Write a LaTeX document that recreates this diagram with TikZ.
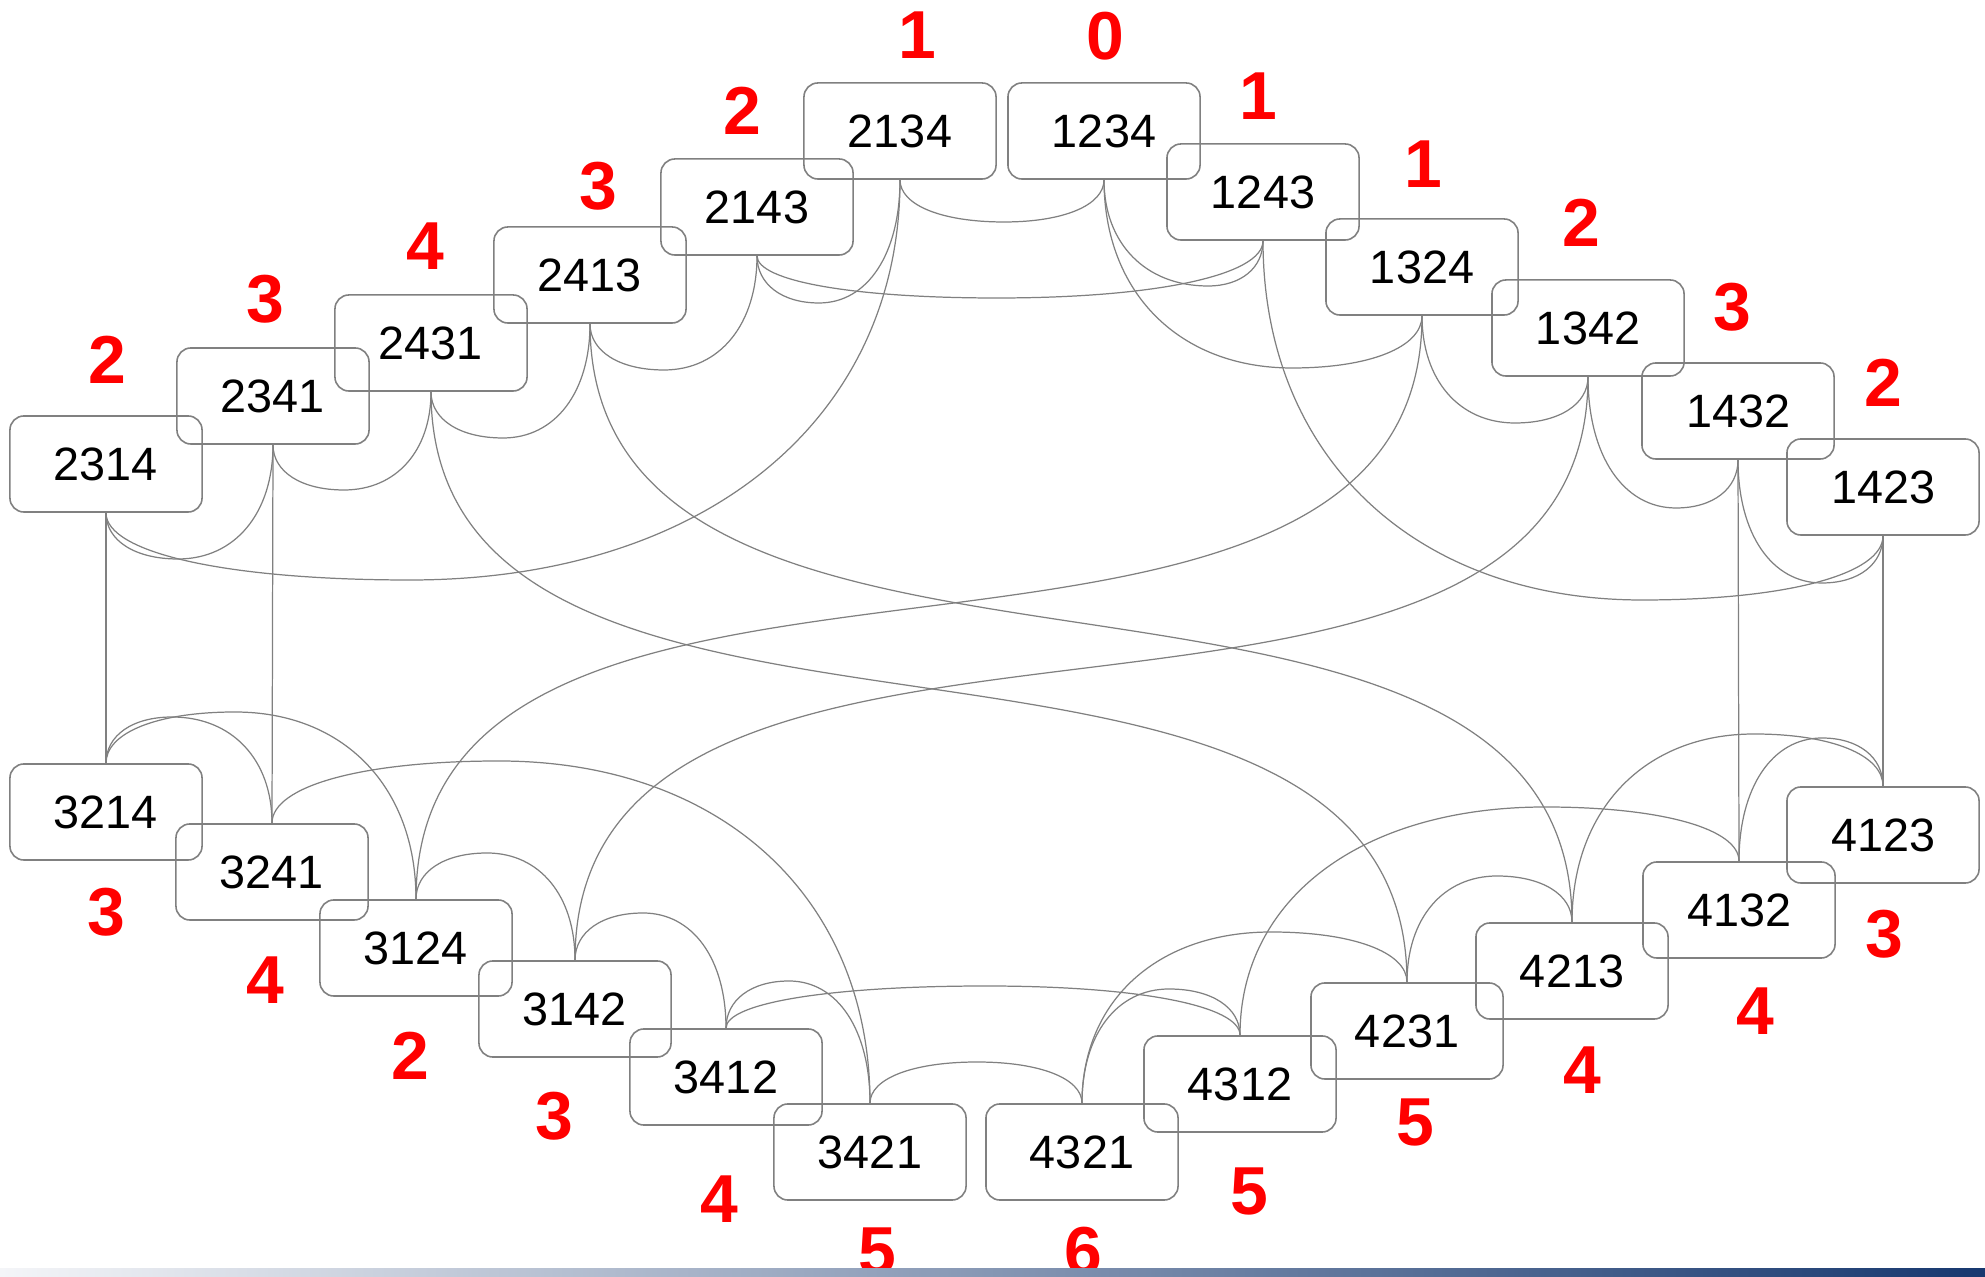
\documentclass[tikz,border=0pt]{standalone}
\usepackage{fontspec}
\setmainfont{Liberation Sans}
\usetikzlibrary{calc}
\definecolor{cgRed}{HTML}{FF0000}
\definecolor{cgGrey}{HTML}{808080}
\definecolor{cgPale}{HTML}{F4F5F8}
\definecolor{cgNavy}{HTML}{17386F}
\tikzset{
  perm/.style = {draw=cgGrey, line width=0.45pt, rounded corners=0.14cm,
                 minimum width=1.92cm, minimum height=0.96cm, inner sep=0pt,
                 font=\fontsize{13.3}{16}\selectfont},
  inv/.style  = {cgRed, inner sep=0pt, font=\fontsize{19.3}{23}\selectfont\bfseries},
  link/.style = {cgGrey, line width=0.35pt},
}
% connector that leaves #1, turns at the point #3 and comes back into #2
\newcommand{\turnlink}[3]{%
  \draw[link] let \p1 = (#1), \p2 = (#2), \p3 = (#3) in
    (\p1) .. controls (\x1, {\y1+0.6*(\y3-\y1)}) and ({\x3+0.6*(\x1-\x3)}, \y3) .. (\p3)
          .. controls ({\x3+0.6*(\x2-\x3)}, \y3) and (\x2, {\y2+0.6*(\y3-\y2)}) .. (\p2);
}

\begin{document}
\begin{tikzpicture}[x=0.01cm, y=-0.01cm]
  \useasboundingbox (0,0) rectangle (1985,1277);

  \node[perm] (p2134) at (900,131)  {2134};
  \node[perm] (p1234) at (1104,131) {1234};
  \node[perm] (p1243) at (1263,192) {1243};
  \node[perm] (p1324) at (1422,267) {1324};
  \node[perm] (p1342) at (1588,328) {1342};
  \node[perm] (p1432) at (1738,411) {1432};
  \node[perm] (p1423) at (1883,487) {1423};
  \node[perm] (p2143) at (757,207)  {2143};
  \node[perm] (p2413) at (590,275)  {2413};
  \node[perm] (p2431) at (431,343)  {2431};
  \node[perm] (p2341) at (273,396)  {2341};
  \node[perm] (p2314) at (106,464)  {2314};

  \node[perm] (p3214) at (106,812)  {3214};
  \node[perm] (p3241) at (272,872)  {3241};
  \node[perm] (p3124) at (416,948)  {3124};
  \node[perm] (p3142) at (575,1009) {3142};
  \node[perm] (p3412) at (726,1077) {3412};
  \node[perm] (p3421) at (870,1152) {3421};
  \node[perm] (p4321) at (1082,1152) {4321};
  \node[perm] (p4312) at (1240,1084) {4312};
  \node[perm] (p4231) at (1407,1031) {4231};
  \node[perm] (p4213) at (1572,971) {4213};
  \node[perm] (p4132) at (1739,910) {4132};
  \node[perm] (p4123) at (1883,835) {4123};

  \node[inv] (n2134) at (917,35)   {1};
  \node[inv] (n1234) at (1105,36)  {0};
  \node[inv] (n1243) at (1258,96)  {1};
  \node[inv] (n1324) at (1423,164) {1};
  \node[inv] (n1342) at (1581,223) {2};
  \node[inv] (n1432) at (1732,307) {3};
  \node[inv] (n1423) at (1883,383) {2};
  \node[inv] (n2143) at (742,111)  {2};
  \node[inv] (n2413) at (598,186)  {3};
  \node[inv] (n2431) at (425,246)  {4};
  \node[inv] (n2341) at (265,299)  {3};
  \node[inv] (n2314) at (107,360)  {2};

  \node[inv] (n3214) at (106,912)  {3};
  \node[inv] (n3241) at (265,980)  {4};
  \node[inv] (n3124) at (410,1056) {2};
  \node[inv] (n3142) at (554,1116) {3};
  \node[inv] (n3412) at (719,1199) {4};
  \node[inv] (n3421) at (877,1251) {5};
  \node[inv] (n4321) at (1083,1251) {6};
  \node[inv] (n4312) at (1249,1191) {5};
  \node[inv] (n4231) at (1415,1122) {5};
  \node[inv] (n4213) at (1582,1070) {4};
  \node[inv] (n4132) at (1755,1011) {4};
  \node[inv] (n4123) at (1884,934)  {3};

  \turnlink{p1234.south}{p2134.south}{1004,222}
  \turnlink{p1234.south}{p1243.south}{1208,286}
  \turnlink{p1234.south}{p1324.south}{1292,368}
  \turnlink{p2134.south}{p2143.south}{819,303}
  \turnlink{p2134.south}{p2314.south}{410,580}
  \turnlink{p2143.south}{p2413.south}{664,370}
  \turnlink{p2143.south}{p1243.south}{997,298}
  \turnlink{p1243.south}{p1423.south}{1642,600}
  \turnlink{p1324.south}{p1342.south}{1515,423}
  \turnlink{p1342.south}{p1432.south}{1676,508}
  \turnlink{p1432.south}{p1423.south}{1822,583}
  \turnlink{p2413.south}{p2431.south}{503,438}
  \turnlink{p2431.south}{p2341.south}{344,490}
  \turnlink{p2341.south}{p2314.south}{178,559}

  \turnlink{p3214.north}{p3241.north}{172,717}
  \turnlink{p3214.north}{p3124.north}{235,712}
  \turnlink{p3241.north}{p3421.north}{499,761}
  \turnlink{p3124.north}{p3142.north}{487,853}
  \turnlink{p3142.north}{p3412.north}{643,913}
  \turnlink{p3412.north}{p3421.north}{789,981}
  \turnlink{p3412.north}{p4312.north}{986,986}
  \turnlink{p3421.north}{p4321.north}{977,1062}
  \turnlink{p4321.north}{p4312.north}{1169,989}
  \turnlink{p4321.north}{p4231.north}{1271,932}
  \turnlink{p4312.north}{p4132.north}{1545,807}
  \turnlink{p4231.north}{p4213.north}{1497,876}
  \turnlink{p4213.north}{p4123.north}{1754,734}
  \turnlink{p4132.north}{p4123.north}{1822,738}

  \draw[link] (p1324.south) to[out=-90, in=90] (p3124.north);
  \draw[link] (p1342.south) to[out=-90, in=90] (p3142.north);
  \draw[link] (p2413.south) to[out=-90, in=90] (p4213.north);
  \draw[link] (p2431.south) to[out=-90, in=90] (p4231.north);

  \draw[link] (p2314.south) -- (p3214.north);
  \draw[link] (p2341.south) -- (p3241.north);
  \draw[link] (p1432.south) -- (p4132.north);
  \draw[link] (p1423.south) -- (p4123.north);

  \shade[left color=cgPale, right color=cgNavy] (0,1268) rectangle (1985,1277);
\end{tikzpicture}
\end{document}
